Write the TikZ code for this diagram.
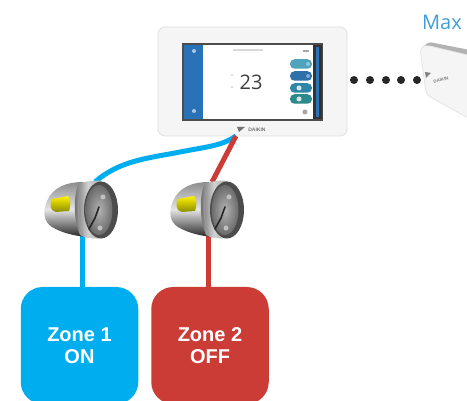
\documentclass[tikz,border=0pt]{standalone}
\usepackage{fontspec}
\setmainfont{Liberation Sans}
\newfontfamily\opensans{Open Sans}
\usetikzlibrary{calc}
\definecolor{zoneblue}{HTML}{00AEEF}
\definecolor{zonered}{HTML}{CB3C37}
\definecolor{maxblue}{HTML}{3F9FD8}
\definecolor{panelblue}{HTML}{2A72B8}
\definecolor{btna}{HTML}{4FA3BC}
\definecolor{btnb}{HTML}{2F6FAA}
\definecolor{btnc}{HTML}{2F86A6}
\definecolor{btnd}{HTML}{2C8A8C}
\tikzset{
  zonebox/.style={rounded corners=22pt,minimum width=117.5pt,minimum height=117pt,inner sep=0pt,align=center,text=white,font=\fontsize{20}{22}\selectfont\bfseries},
  bluewire/.style={draw=zoneblue,line width=5pt},
  redwire/.style={draw=zonered,line width=5pt},
  dot/.style={circle,fill=black!85,minimum size=8pt,inner sep=0pt},
  pillbtn/.style={rounded corners=4.5pt,minimum width=22pt,minimum height=9.5pt,inner sep=0pt},
  anchorbox/.style={minimum width=74pt,minimum height=58pt,inner sep=0pt},
  pics/damper/.style={code={
    \path[top color=black!45,bottom color=black!85,middle color=black!10]
      (2,-27) .. controls (-14,-27) and (-28,-22) .. (-34,-8)
      .. controls (-39,3) and (-37,13) .. (-29,18)
      .. controls (-19,24) and (-6,27) .. (6,28) -- cycle;
    \path[top color=yellow!90!orange,bottom color=yellow!55!black]
      (-29,-10) -- (-13,-13) .. controls (-10,-10) and (-10,-3) .. (-12,2)
      -- (-25,3) .. controls (-31,2) and (-32,-5) .. (-29,-10) -- cycle;
    \path[left color=black!60,right color=black!35,middle color=black!18]
      (-3,-24) .. controls (3,-28) and (14,-29) .. (20,-28)
      -- (22,29) .. controls (12,30) and (3,29) .. (-1,26)
      .. controls (-7,12) and (-8,-10) .. (-3,-24) -- cycle;
    \fill[black!70] (20,1) ellipse (17pt and 28.5pt);
    \path[inner color=black!30,outer color=black!58] (18,1) ellipse (13.5pt and 25pt);
    \draw[black!85,line width=1.6pt,line cap=round] (8,20) -- (14,9) -- (18,-2);
    \fill[black!25] (22,-12) circle (2.5pt);
    \fill[black!25] (19,19) circle (2.5pt);
    \draw[black!40,line width=1pt] (1,-24) .. controls (-4,-10) and (-4,12) .. (2,26);
  }}
}
\begin{document}
\begin{tikzpicture}[x=1pt,y=-1pt]
\useasboundingbox (0,0) rectangle (467,401);
\clip (0,0) rectangle (467,401);
\fill[white] (0,0) rectangle (467,401);

% named nodes
\node[zonebox,fill=zoneblue] (zone1) at (79.5,345.5) {Zone 1\\ON};
\node[zonebox,fill=zonered] (zone2) at (210,345.5) {Zone 2\\OFF};
\node[anchorbox] (damper1) at (81,209) {};
\node[anchorbox] (damper2) at (207,209) {};
\node[rounded corners=7pt,draw=black!12,fill=black!4,line width=0.8pt,minimum width=189pt,minimum height=109pt,inner sep=0pt] (ctrl) at (252.5,81.5) {};
\coordinate (junction) at (236,136);
\coordinate (blueend) at (95,182);
\coordinate (redend) at (212,182);

% connectors
\draw[bluewire] (junction) .. controls (222,146) and (205,147) .. (180,152)
  .. controls (150,158) and (120,160) .. (blueend);
\draw[redwire] (junction) -- (redend);
\draw[bluewire] ($(damper1.south)+(1,-3)$) -- ($(zone1.north)+(2.5,1)$);
\draw[redwire] ($(damper2.south)+(1,-3)$) -- ($(zone2.north)+(-2,1)$);

% controller screen
\node[draw=black!70,line width=1.2pt,fill=white,minimum width=139pt,minimum height=76pt,inner sep=0pt] (screen) at (252.5,82) {};
\fill[panelblue] (184,45) rectangle (203,119);
\fill[black!80] (313,45) rectangle (322,119);
\fill[panelblue] (316,47) rectangle (319,117);
\fill[white!60!panelblue] (194,51) circle (2pt);
\fill[white!60!panelblue] (194,111) circle (2pt);
\node[font=\opensans\fontsize{20}{20}\selectfont,text=black!75,inner sep=0pt] (temp) at (251,82) {23};
\node[pillbtn,fill=btna] (b1) at (301,64) {};
\node[pillbtn,fill=btnb] (b2) at (301,76) {};
\node[pillbtn,fill=btnc] (b3) at (301,88) {};
\node[pillbtn,fill=btnd] (b4) at (301,99) {};
\fill[white!40!btna] (308,64) circle (2pt);
\fill[white!40!btnb] (308,76) circle (2pt);
\fill[white!80!btnc] (299,88) circle (2.5pt);
\fill[white!80!btnd] (299,99) circle (2.5pt);
\fill[black!35] (305,112) circle (2.5pt);
\fill[black!35] (303,50) rectangle (309,52);
\fill[black!15] (233,49.5) rectangle (263,51);
\fill[black!25] (232,75) circle (0.8pt);
\fill[black!25] (232,87) circle (0.8pt);
\fill[black!55] (237,127) -- (245,127) -- (239,132) -- cycle;
\node[font=\fontsize{5}{6}\selectfont\bfseries,text=black!55,inner sep=0pt] (logo) at (257,129.5) {DAIKIN};

% dampers
\pic at (damper1.center) {damper};
\pic at (damper2.center) {damper};

% dotted link
\node[dot] (d1) at (354,80) {};
\node[dot] (d2) at (370,80) {};
\node[dot] (d3) at (386,80) {};
\node[dot] (d4) at (401,80) {};
\node[dot] (d5) at (417,80) {};

% Max device
\node[font=\opensans\fontsize{20}{20}\selectfont,text=maxblue,inner sep=0pt] (maxlabel) at (442,22) {Max};
\fill[black!30,rounded corners=2pt] (424,46) -- (429,42) -- (470,50) -- (470,62) -- cycle;
\fill[black!4,draw=black!12,line width=0.6pt,rounded corners=4pt] (420,48) -- (426,45) -- (472,56) -- (472,120) -- (430,97) -- (426,93) -- cycle;
\fill[black!50] (425,72) -- (431,73) -- (426,78) -- cycle;
\node[font=\fontsize{4.5}{5}\selectfont\bfseries,text=black!50,rotate=14,inner sep=0pt] (devlogo) at (441,80) {DAIKIN};
\end{tikzpicture}
\end{document}
